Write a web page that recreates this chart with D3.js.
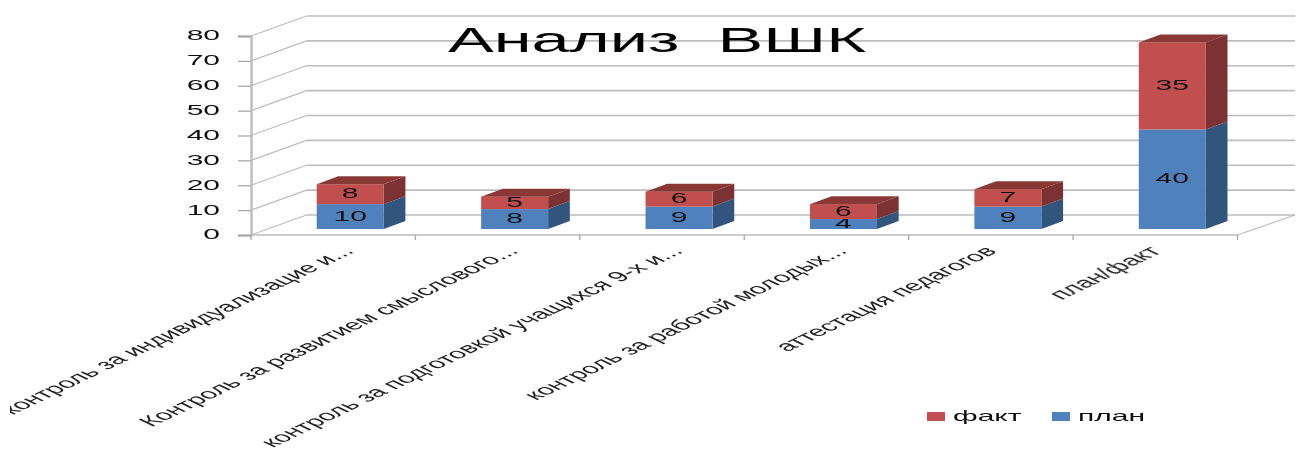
<!DOCTYPE html>
<html>
<head>
<meta charset="utf-8">
<script src="https://cdn.jsdelivr.net/npm/d3@7"></script>
<style>
    html, body { margin: 0; padding: 0; background: #fff; overflow: hidden; }
    svg { display: block; }
    text { font-family: "Liberation Sans", sans-serif; fill: #1a1a1a; }
</style>
</head>
<body>
<div id="chart"></div>
<script>
// Chart data
const categories = [
    "контроль за индивидуализацие и...",
    "Контроль за развитием смыслового...",
    "контроль за подготовкой учащихся 9-х и...",
    "контроль за работой молодых...",
    "аттестация педагогов",
    "план/факт"
]
const plan = [10, 8, 9, 4, 9, 40]
const fact = [8, 5, 6, 6, 7, 35]
const yTicks = [0, 10, 20, 30, 40, 50, 60, 70, 80]
const titleText = "Анализ  ВШК"

const width = 1296
const height = 453

// The picture is a 3D column chart stretched sideways, so text gets stretched too
const wallDx = 55.5, wallDy = -20
const barDx = 21.7, barDy = -8
const barLift = 6
const barWidth = 67
const gridColor = "#bdbdbd"

const colors = {
    plan: {front: "#4f81bd", side: "#33547d", top: "#3f6797"},
    fact: {front: "#c0504d", side: "#7c3230", top: "#8a3836"}
}

const rows = categories.map((c, i) => ({category: c, plan: plan[i], fact: fact[i]}))
const stacked = d3.stack().keys(["plan", "fact"])(rows)

const xScale = d3.scaleBand().domain(categories).range([251, 1237.5])
const yScale = d3.scaleLinear().domain([0, 80]).range([235, 36])

const svg = d3.select("#chart").append("svg")
    .attr("width", width)
    .attr("height", height)

const defs = svg.append("defs")
defs.append("filter").attr("id", "soft")
    .append("feGaussianBlur").attr("stdDeviation", 0.65)
defs.append("clipPath").attr("id", "pageEdge")
    .append("rect").attr("x", 10).attr("y", 0).attr("width", width).attr("height", height)

const chart = svg.append("g").attr("filter", "url(#soft)")

// Back wall gridlines and left wall diagonals
const grid = chart.append("g")
grid.selectAll("line.back")
    .data(yTicks)
    .enter()
    .append("line")
    .attr("class", "back")
    .attr("x1", 251 + wallDx)
    .attr("x2", 1237.5 + wallDx + 2)
    .attr("y1", d => yScale(d) + wallDy)
    .attr("y2", d => yScale(d) + wallDy)
    .style("stroke", gridColor)
    .style("stroke-width", 1.6)
grid.selectAll("line.side")
    .data(yTicks)
    .enter()
    .append("line")
    .attr("class", "side")
    .attr("x1", 251)
    .attr("x2", 251 + wallDx)
    .attr("y1", d => yScale(d))
    .attr("y2", d => yScale(d) + wallDy)
    .style("stroke", gridColor)
    .style("stroke-width", 1.3)

// Right edge of the floor
grid.append("line")
    .attr("x1", 1237.5).attr("y1", yScale(0))
    .attr("x2", 1237.5 + wallDx + 2).attr("y2", yScale(0) + wallDy)
    .style("stroke", gridColor)
    .style("stroke-width", 1.3)

// Y axis
const yAxis = chart.append("g")
    .attr("transform", "translate(251,0)")
    .call(d3.axisLeft(yScale).tickValues(yTicks).tickSize(13))
yAxis.select(".domain").style("stroke", gridColor).style("stroke-width", 2.4)
yAxis.selectAll(".tick line").style("stroke", "#aaa").style("stroke-width", 1.3)
yAxis.selectAll(".tick text")
    .attr("x", -15.5)
    .attr("dy", "0.26em")
    .attr("transform", "scale(2,1)")
    .style("font-size", "15px")
    .style("fill", "#111")

// X axis with ticks between the categories
const xAxisLine = chart.append("g")
xAxisLine.append("line")
    .attr("x1", 251).attr("x2", 1237.5)
    .attr("y1", yScale(0)).attr("y2", yScale(0))
    .style("stroke", gridColor)
    .style("stroke-width", 1.6)
xAxisLine.selectAll("line.tick")
    .data(d3.range(categories.length + 1))
    .enter()
    .append("line")
    .attr("class", "tick")
    .attr("x1", i => 251 + i * xScale.step())
    .attr("x2", i => 251 + i * xScale.step())
    .attr("y1", yScale(0))
    .attr("y2", yScale(0) + 5)
    .style("stroke", "#a8a8a8")
    .style("stroke-width", 1.3)

// Bars, each segment is a front face, a side face and a top face
function barLeft(d) {
    return xScale(d.data.category) + (xScale.bandwidth() - barWidth) / 2 + 17
}
function barY(v) {
    return yScale(v) - barLift
}

stacked.forEach(series => {
    const c = colors[series.key]
    const layer = chart.append("g")

    layer.selectAll("polygon.side")
        .data(series)
        .enter()
        .append("polygon")
        .attr("class", "side")
        .attr("points", d => {
            const r = barLeft(d) + barWidth
            return [[r, barY(d[0])], [r + barDx, barY(d[0]) + barDy],
                    [r + barDx, barY(d[1]) + barDy], [r, barY(d[1])]].join(" ")
        })
        .style("fill", c.side)

    layer.selectAll("rect")
        .data(series)
        .enter()
        .append("rect")
        .attr("x", barLeft)
        .attr("y", d => barY(d[1]))
        .attr("width", barWidth)
        .attr("height", d => barY(d[0]) - barY(d[1]))
        .style("fill", c.front)

    if (series.key === "fact") {
        layer.selectAll("polygon.top")
            .data(series)
            .enter()
            .append("polygon")
            .attr("class", "top")
            .attr("points", d => {
                const l = barLeft(d)
                const t = barY(d[1])
                return [[l, t], [l + barWidth, t], [l + barWidth + barDx, t + barDy],
                        [l + barDx, t + barDy]].join(" ")
            })
            .style("fill", c.top)
    }

    // Value labels
    layer.selectAll("text")
        .data(series)
        .enter()
        .append("text")
        .attr("transform", d => {
            const cx = barLeft(d) + barWidth / 2
            const cy = (barY(d[0]) + barY(d[1])) / 2
            return `translate(${cx},${cy}) scale(2,1)`
        })
        .attr("text-anchor", "middle")
        .attr("dy", "0.28em")
        .style("font-size", "15px")
        .style("fill", "#111")
        .text(d => d[1] - d[0])
})

// Title
chart.append("text")
    .attr("transform", "translate(657,52) scale(1.96,1)")
    .attr("text-anchor", "middle")
    .style("font-size", "35px")
    .style("fill", "#000")
    .style("white-space", "pre")
    .text(titleText)

// Category labels, rotated first and then stretched with the rest of the picture
chart.append("g")
    .attr("clip-path", "url(#pageEdge)")
    .selectAll("text")
    .data(categories)
    .enter()
    .append("text")
    .attr("transform", d => {
        // Shortened labels sit further right of the band centre than the full ones
        const shift = d.endsWith("...") ? 22 : 7
        const endX = xScale(d) + xScale.bandwidth() / 2 + shift
        return `translate(${endX},252) scale(2.1,1) rotate(-45)`
    })
    .attr("text-anchor", "end")
    .style("font-size", "14.2px")
    .style("fill", "#222")
    .text(d => d)

// Legend
const legendItems = [
    {name: "факт", key: "fact"},
    {name: "план", key: "plan"}
]
const legendX = d3.scalePoint().domain(["fact", "plan"]).range([927, 1052])
const legend = chart.append("g")
legend.selectAll("rect")
    .data(legendItems)
    .enter()
    .append("rect")
    .attr("x", d => legendX(d.key))
    .attr("y", 412)
    .attr("width", 18)
    .attr("height", 9)
    .style("fill", d => colors[d.key].front)
legend.selectAll("text")
    .data(legendItems)
    .enter()
    .append("text")
    .attr("transform", d => `translate(${legendX(d.key) + 26},421) scale(2,1)`)
    .style("font-size", "15px")
    .style("fill", "#111")
    .text(d => d.name)
</script>
</body>
</html>
